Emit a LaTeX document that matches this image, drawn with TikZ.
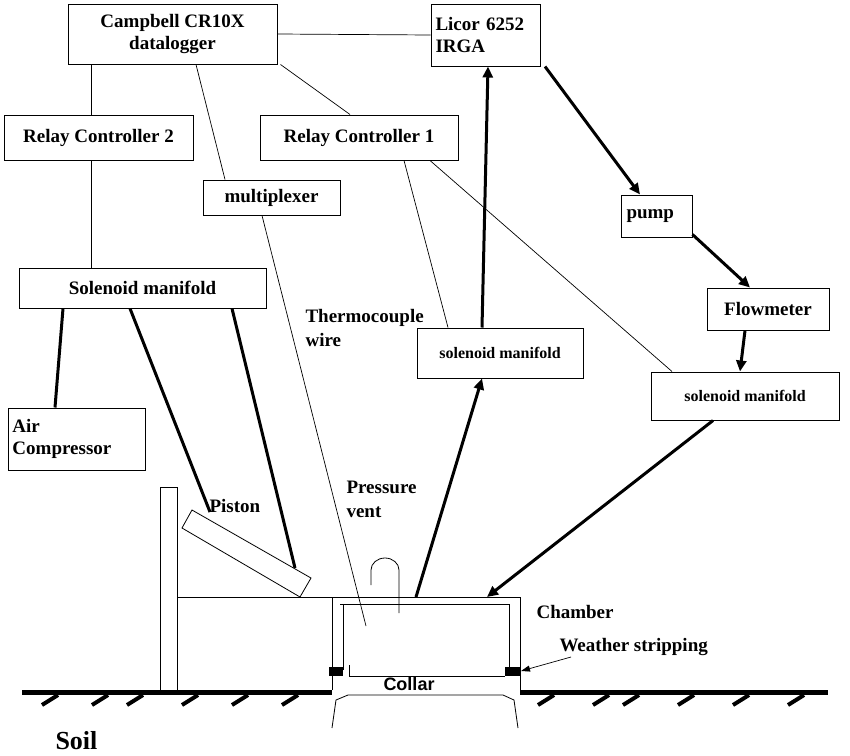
\documentclass[tikz,border=0pt]{standalone}
\usepackage{fontspec}
\setmainfont{Liberation Serif}
\newfontfamily\sansf{Liberation Sans}
\usetikzlibrary{arrows.meta}
\begin{document}
\begin{tikzpicture}[x=1pt,y=-1pt,
  box/.style={draw,line width=1pt,minimum height=#1,inner sep=2pt,font=\bfseries\fontsize{19}{22}\selectfont},
  thin/.style={line width=0.7pt},
  fat/.style={line width=3pt},
  fatarr/.style={line width=3pt,-{Triangle[length=11pt,width=10pt]}},
  lbl/.style={font=\bfseries\fontsize{19}{24}\selectfont,align=left}]
\useasboundingbox (0,0) rectangle (850,755);
% boxes
\node[box=60pt,minimum width=209pt,align=center] (camp) at (172.5,34) {Campbell CR10X\\datalogger};
\node[box=62pt,minimum width=109pt,align=left,text width=100pt] (licor) at (485.5,35) {Licor 6252\\IRGA};
\node[box=45pt,minimum width=189pt] (rc2) at (98.5,137.5) {Relay Controller 2};
\node[box=45pt,minimum width=198pt] (rc1) at (359,137.5) {Relay Controller 1};
\node[box=35pt,minimum width=137pt] (mux) at (271.5,197.5) {multiplexer};
\node[box=42pt,minimum width=71pt,text width=60pt,align=left] (pump) at (656.5,216) {pump};
\node[box=40pt,minimum width=247pt] (sm1) at (142.5,288) {Solenoid manifold};
\node[box=42pt,minimum width=122pt] (flow) at (768,309) {Flowmeter};
\node[box=50pt,minimum width=166pt,font=\bfseries\fontsize{16}{19}\selectfont] (sm2) at (500,353) {solenoid manifold};
\node[box=48pt,minimum width=188pt,font=\bfseries\fontsize{16}{19}\selectfont] (sm3) at (745,396) {solenoid manifold};
\node[box=62pt,minimum width=137pt,text width=128pt,align=left] (air) at (76.5,439) {Air\\Compressor};
% thin connectors
\draw[thin] (camp.east) -- (licor.west);
\draw[thin] (camp.south -| 91,0) -- (rc2.north -| 91,0);
\draw[thin] (camp.south east) ++(3,0) coordinate (c1) -- (rc1.north -| 350,0);
\coordinate (c2) at (196,64);
\draw[thin] (camp.south -| c2) -- (mux.north -| 225,0);
\coordinate (tc) at (366,626);
\draw[thin] (mux.south -| 262,0) -- (tc);
\draw[thin] (rc2.south -| 91,0) -- (sm1.north -| 91,0);
\draw[thin] (rc1.south -| 404,0) -- (sm2.north -| 448,0);
\draw[thin] (rc1.south -| 430,0) -- (sm3.north -| 672,0);
% thick arrows
\draw[fatarr] (sm2.north -| 482,0) -- (licor.south -| 488,0);
\draw[fatarr] (licor.south -| 545,0) -- (pump.north -| 640,0);
\draw[fatarr] (pump.south east) ++(0,-3) -- (flow.north -| 750,0);
\draw[fatarr] (flow.south -| 745,0) -- (sm3.north -| 740,0);
\coordinate (chtop1) at (487,597);
\coordinate (chtop2) at (416,597);
\draw[fatarr] (sm3.south -| 713,0) -- (chtop1);
\draw[fatarr] (chtop2) -- (sm2.south -| 482,0);
% thick lines
\coordinate (pt1) at (210,512);
\coordinate (pt2) at (295,568);
\draw[fat] (sm1.south -| 63,0) -- (air.north -| 55,0);
\draw[fat] (sm1.south -| 130,0) -- (pt1);
\draw[fat] (sm1.south -| 232,0) -- (pt2);
% piston & post
\draw[thick,fill=white] (192,510) -- (311,578) -- (300,597) -- (182,528) -- cycle;
\draw[thick] (160,690) -- (160,487) -- (177,487) -- (177,690);
\draw[thick] (177,597) -- (332,597);
% chamber
\draw[thick] (332,690) -- (332,597) -- (520,597) -- (520,690);
\draw[thick] (343,670) -- (343,604) -- (340,604) (340,604) -- (505,604);
\draw[thick] (509,670) -- (509,604) -- (505,604);
\fill[black] (329,667) rectangle (343,676);
\fill[black] (505,667) rectangle (521,676);
\draw[thick] (349,665) -- (349,676) -- (505,676);
\draw[thick] (332,728) -- (336,700) -- (348,695) -- (503,695) -- (514,700) -- (518,728);
% pressure vent
\draw[thick] (371,585) -- (371,570) arc (180:360:14 and 12) -- (399,613);
% soil
\draw[line width=5pt] (22,692) -- (332,692);
\draw[line width=5pt] (520,692) -- (828,692);
\foreach \x in {42,92,127,182,232,282,538,593,623,678,733,788}
  \draw[line width=4pt] (\x,705) -- (\x+16,695);
% labels
\node[lbl,anchor=west] (lpis) at (206,506) {Piston};
\node[lbl,anchor=north west] (lpv) at (343,478) {Pressure\\vent};
\node[lbl,anchor=north west] (ltc) at (302,306) {Thermocouple\\wire};
\node[lbl,anchor=west] (lch) at (533,612) {Chamber};
\node[lbl,anchor=west] (lws) at (556,647) {Weather stripping};
\draw[thin,-{Triangle[length=9pt,width=6pt]}] (lws.west) ++(15,10) coordinate (wsa) -- (521,671);
\node[font=\sansf\bfseries\fontsize{18}{20}\selectfont] (lcol) at (409,684) {Collar};
\node[font=\bfseries\fontsize{26}{28}\selectfont,anchor=west] (lsoil) at (52,741) {Soil};
\end{tikzpicture}
\end{document}
